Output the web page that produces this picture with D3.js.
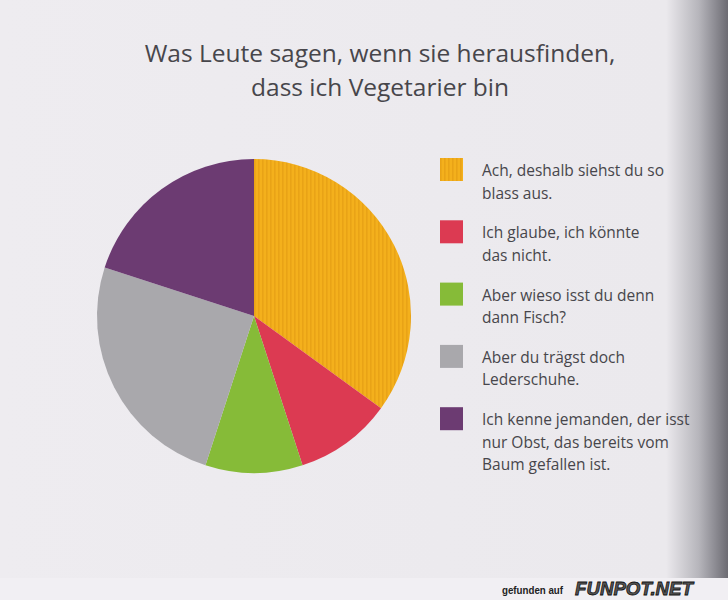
<!DOCTYPE html>
<html>
<head>
<meta charset="utf-8">
<script src="https://cdn.jsdelivr.net/npm/d3@7"></script>
<style>
html,body{margin:0;padding:0;background:#eeecf0;}
svg{display:block;}
</style>
</head>
<body>
<svg id="chart" width="728" height="600"></svg>
<script>
const titleLines = ["Was Leute sagen, wenn sie herausfinden,", "dass ich Vegetarier bin"];
const categories = [
  "Ach, deshalb siehst du so blass aus.",
  "Ich glaube, ich könnte das nicht.",
  "Aber wieso isst du denn dann Fisch?",
  "Aber du trägst doch Lederschuhe.",
  "Ich kenne jemanden, der isst nur Obst, das bereits vom Baum gefallen ist."
];
const legendLines = [
  ["Ach, deshalb siehst du so", "blass aus."],
  ["Ich glaube, ich könnte", "das nicht."],
  ["Aber wieso isst du denn", "dann Fisch?"],
  ["Aber du trägst doch", "Lederschuhe."],
  ["Ich kenne jemanden, der isst", "nur Obst, das bereits vom", "Baum gefallen ist."]
];
const values = [35, 10, 10, 25, 20];
const colors = ["#f4b01c", "#dc3a52", "#86bb38", "#a9a8ac", "#6c3b72"];

const svg = d3.select("#chart");
const W = 728, H = 600;
const defs = svg.append("defs");

// page shading towards the book spine
const grad = defs.append("linearGradient").attr("id", "spine").attr("x1", 0).attr("x2", 1).attr("y1", 0).attr("y2", 0);
grad.append("stop").attr("offset", "0").attr("stop-color", "#eeecf0");
grad.append("stop").attr("offset", "0.915").attr("stop-color", "#ebe9ed");
grad.append("stop").attr("offset", "0.96").attr("stop-color", "#b6b5bb");
grad.append("stop").attr("offset", "0.98").attr("stop-color", "#919097");
grad.append("stop").attr("offset", "1").attr("stop-color", "#6c6b72");

// orange stripe texture
const pat = defs.append("pattern").attr("id", "stripes").attr("patternUnits", "userSpaceOnUse")
  .attr("width", 4).attr("height", 4);
pat.append("rect").attr("width", 4).attr("height", 4).attr("fill", colors[0]);
pat.append("rect").attr("width", 1.6).attr("height", 4).attr("fill", "#e9a316");

svg.append("rect").attr("width", W).attr("height", H).attr("fill", "url(#spine)");
svg.append("rect").attr("y", 578).attr("width", W).attr("height", 22).attr("fill", "#f1eff3");

// title
svg.append("g").selectAll("text").data(titleLines).join("text")
  .attr("x", 380).attr("y", (d, i) => 62 + i * 34)
  .attr("text-anchor", "middle")
  .attr("font-family", "'Open Sans', sans-serif")
  .attr("font-size", 24.5)
  .attr("fill", "#47464b")
  .text(d => d);

// pie
const cx = 254, cy = 316, R = 157;
const pie = d3.pie().sort(null).value(d => d);
const arc = d3.arc().innerRadius(0).outerRadius(R);
const fills = colors.map((c, i) => i === 0 ? "url(#stripes)" : c);
svg.append("g").attr("transform", `translate(${cx},${cy})`)
  .selectAll("path").data(pie(values)).join("path")
  .attr("d", arc)
  .attr("fill", (d, i) => fills[i]);

// legend
const y0 = 158, step = 62.3, sw = 23;
const lg = svg.append("g");
const items = lg.selectAll("g").data(categories).join("g")
  .attr("transform", (d, i) => `translate(440,${y0 + i * step})`);
items.append("rect").attr("width", sw).attr("height", sw).attr("fill", (d, i) => fills[i]);
items.each(function(d, i) {
  d3.select(this).selectAll("text").data(legendLines[i]).join("text")
    .attr("x", 42).attr("y", (t, j) => 18 + j * 22.5)
    .attr("font-family", "'Open Sans', sans-serif")
    .attr("font-size", 15.5)
    .attr("fill", "#47464b")
    .text(t => t);
});

// watermark
svg.append("text").attr("x", 502).attr("y", 594)
  .attr("font-family", "Arial, 'Liberation Sans', sans-serif").attr("font-size", 10.5).attr("font-weight", "bold")
  .attr("fill", "#222").attr("textLength", 61).attr("lengthAdjust", "spacingAndGlyphs").text("gefunden auf");
svg.append("text").attr("x", 575).attr("y", 595)
  .attr("font-family", "Arial, 'Liberation Sans', sans-serif").attr("font-size", 19).attr("font-weight", "bold")
  .attr("font-style", "italic").attr("fill", "#555").attr("stroke", "#111").attr("stroke-width", 0.8)
  .attr("textLength", 118).attr("lengthAdjust", "spacingAndGlyphs")
  .text("FUNPOT.NET");
</script>
</body>
</html>
